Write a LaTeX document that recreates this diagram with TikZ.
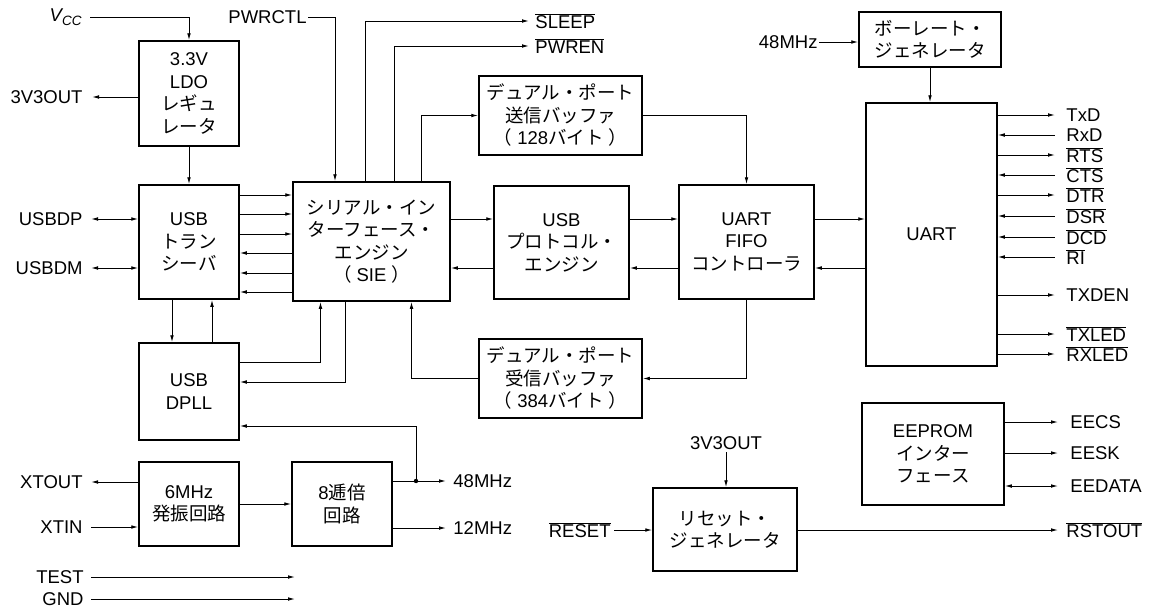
\documentclass[tikz,border=0pt]{standalone}
\usepackage{fontspec}
\setmainfont{Liberation Sans}
\newfontfamily\jp{Noto Sans CJK JP}
\usetikzlibrary{arrows.meta}

\newcommand\ovl[1]{$\overline{\mbox{#1}}$}

\tikzset{
  blk/.style={draw, line width=1.5pt, align=center, inner sep=0pt},
  sigtext/.style={inner ysep=0pt, inner xsep=#1},
  sigtext/.default=8pt,
}

\begin{document}
\begin{tikzpicture}[x=1pt, y=-1pt, line width=0.9pt,
    >={Latex[length=7pt,width=3.6pt]},
    every node/.style={font=\fontsize{18.5}{22.5}\selectfont}]
        \useasboundingbox (0,0) rectangle (1151,608);

        % Blocks.
        \node[blk, minimum width=100pt, minimum height=105pt] (ldo) at (189,93.5)
            {3.3V\\LDO\\{\jp レギュ}\\{\jp レータ}};
        \node[blk, minimum width=100pt, minimum height=114pt] (trx) at (189,242)
            {USB\\{\jp トラン}\\{\jp シーバ}};
        \node[blk, minimum width=100pt, minimum height=97pt] (dpll) at (189,391.5)
            {USB\\DPLL};
        \node[blk, minimum width=100pt, minimum height=84pt] (osc) at (189,504)
            {6MHz\\{\jp 発振回路}};
        \node[blk, minimum width=100pt, minimum height=84pt] (mul) at (342,504)
            {8{\jp 逓倍}\\{\jp 回路}};
        \node[blk, minimum width=157pt, minimum height=119pt] (sie) at (371.5,241.5)
            {{\jp シリアル・イン}\\{\jp ターフェース・}\\{\jp エンジン}\\{\jp （}\hspace{5pt}SIE\hspace{5pt}{\jp ）}};
        \node[blk, minimum width=163pt, minimum height=79pt] (txbuf) at (560.5,115.5)
            {{\jp デュアル・ポート}\\{\jp 送信バッファ}\\{\jp （}\hspace{5pt}128{\jp バイト}\hspace{5pt}{\jp ）}};
        \node[blk, minimum width=163pt, minimum height=79pt] (rxbuf) at (560.5,378.5)
            {{\jp デュアル・ポート}\\{\jp 受信バッファ}\\{\jp （}\hspace{5pt}384{\jp バイト}\hspace{5pt}{\jp ）}};
        \node[blk, minimum width=135pt, minimum height=113pt] (proto) at (561.5,242.5)
            {USB\\{\jp プロトコル・}\\{\jp エンジン}};
        \node[blk, minimum width=135pt, minimum height=114pt] (fifo) at (746.5,242)
            {UART\\FIFO\\{\jp コントローラ}};
        \node[blk, minimum width=131pt, minimum height=263pt] (uart) at (931.5,234.5)
            {UART};
        \node[blk, minimum width=142pt, minimum height=55pt] (baud) at (930,39.5)
            {{\jp ボーレート・}\\{\jp ジェネレータ}};
        \node[blk, minimum width=142pt, minimum height=102pt] (eeprom) at (933,454)
            {EEPROM\\{\jp インター}\\{\jp フェース}};
        \node[blk, minimum width=144pt, minimum height=83pt] (rst) at (725,529.5)
            {{\jp リセット・}\\{\jp ジェネレータ}};

        % Power.
        \node[anchor=east, sigtext=8pt] (vcc) at (90,17)
            {\itshape V\raisebox{-4pt}{\fontsize{13.5}{13.5}\selectfont CC}};
        \draw[->] (vcc.east) -| (ldo.north);
        \node[anchor=east, sigtext=9pt] (v3out) at (92,97) {3V3OUT};
        \draw[->] (ldo.west |- v3out) -- (v3out.east);
        \draw[->] (ldo.south) -- (trx.north);

        % USB lines.
        \node[anchor=east, sigtext=8pt] (usbdp) at (91,219) {USBDP};
        \node[anchor=east, sigtext=8pt] (usbdm) at (91,268) {USBDM};
        \draw[<->] (usbdp.east) -- (trx.west |- usbdp);
        \draw[<->] (usbdm.east) -- (trx.west |- usbdm);
        \foreach \y in {195,214,234}
            \draw[->] (trx.east |- 0,\y) -- (sie.west |- 0,\y);
        \foreach \y in {253,273,292}
            \draw[<-] (trx.east |- 0,\y) -- (sie.west |- 0,\y);
        \draw[->] ([xshift=-17pt]trx.south) -- ([xshift=-17pt]dpll.north);
        \draw[<-] ([xshift=23pt]trx.south) -- ([xshift=23pt]dpll.north);

        % SIE.
        \node[anchor=east, sigtext=1pt] (pwrctl) at (308,17) {PWRCTL};
        \draw[->] (pwrctl.east) -| ([xshift=-36.5pt]sie.north);
        \node[anchor=west, sigtext=6pt] (sleep) at (529,21) {\ovl{SLEEP}};
        \node[anchor=west, sigtext=6pt] (pwren) at (529,46) {\ovl{PWREN}};
        \draw[->] ([xshift=-6.5pt]sie.north) |- (sleep.west);
        \draw[->] ([xshift=22.5pt]sie.north) |- (pwren.west);
        \draw[->] ([xshift=50pt]sie.north) |- (txbuf.west);
        \draw[->] (txbuf.east) -| (fifo.north);
        \draw[->] (fifo.south) |- (rxbuf.east);
        \draw[->] (rxbuf.west) -| ([xshift=40pt]sie.south);
        \foreach \a/\b in {sie/proto, proto/fifo, fifo/uart} {
            \draw[->] (\a.east |- 0,219) -- (\b.west |- 0,219);
            \draw[<-] (\a.east |- 0,268) -- (\b.west |- 0,268);
        }
        \draw[->] (dpll.east |- 0,362) -| ([xshift=-51pt]sie.south);
        \draw[->] ([xshift=-26.5pt]sie.south) |- (dpll.east |- 0,382);

        % Clock.
        \node[anchor=east, sigtext=8pt] (xtout) at (91,482) {XTOUT};
        \node[anchor=east, sigtext=8pt] (xtin) at (91,527) {XTIN};
        \draw[->] (osc.west |- xtout) -- (xtout.east);
        \draw[->] (xtin.east) -- (osc.west |- xtin);
        \draw[->] (osc.east) -- (mul.west);
        \node[anchor=west, sigtext=7pt] (f48) at (446,481) {48MHz};
        \node[anchor=west, sigtext=7pt] (f12) at (446,528) {12MHz};
        \draw[->] (mul.east |- f48) -- (f48.west);
        \draw[->] (mul.east |- f12) -- (f12.west);
        \coordinate (tap) at (416,481);
        \fill (tap) circle (2.2pt);
        \draw[->] (tap) |- (dpll.east |- 0,426);

        % Test pins.
        \node[anchor=east, sigtext=7pt] (test) at (91,577) {TEST};
        \node[anchor=east, sigtext=7pt] (gnd) at (91,599) {GND};
        \coordinate (testend) at (295,577);
        \coordinate (gndend) at (295,599);
        \draw[->] (test.east) -- (testend);
        \draw[->] (gnd.east) -- (gndend);

        % UART.
        \node[anchor=east, sigtext=1pt] (f48b) at (819,42) {48MHz};
        \draw[->] (f48b.east) -- (baud.west |- f48b);
        \draw[->] (baud.south) -- (baud.south |- uart.north);
        \foreach \y/\nm/\txt/\dir in {115/txd/TxD/->, 135/rxd/RxD/<-,
                155/rts/\ovl{RTS}/->, 175/cts/\ovl{CTS}/<-, 195/dtr/\ovl{DTR}/->,
                216/dsr/\ovl{DSR}/<-, 237/dcd/\ovl{DCD}/<-, 257/ri/\ovl{RI}/<-,
                295/txden/TXDEN/->, 334/txled/\ovl{TXLED}/->, 354/rxled/\ovl{RXLED}/->} {
            \node[anchor=west, sigtext=11pt] (\nm) at (1055,\y) {\txt};
            \draw[\dir] (uart.east |- \nm) -- (\nm.west);
        }

        % EEPROM.
        \foreach \y/\nm/\txt/\dir in {422/eecs/EECS/->, 453/eesk/EESK/->,
                486/eedata/EEDATA/<->} {
            \node[anchor=west, sigtext=12pt] (\nm) at (1058,\y) {\txt};
            \draw[\dir] (eeprom.east |- \nm) -- (\nm.west);
        }

        % Reset.
        \node[anchor=south, inner sep=2pt] (rstv) at (726,452) {3V3OUT};
        \draw[->] (rstv.south) -- (rstv.south |- rst.north);
        \node[anchor=east, sigtext=3pt] (reset) at (614,530) {\ovl{RESET}};
        \draw[->] (reset.east) -- (rst.west |- reset);
        \node[anchor=west, sigtext=8pt] (rstout) at (1058,530) {\ovl{RSTOUT}};
        \draw[->] (rst.east |- rstout) -- (rstout.west);
    \end{tikzpicture}
\end{document}
